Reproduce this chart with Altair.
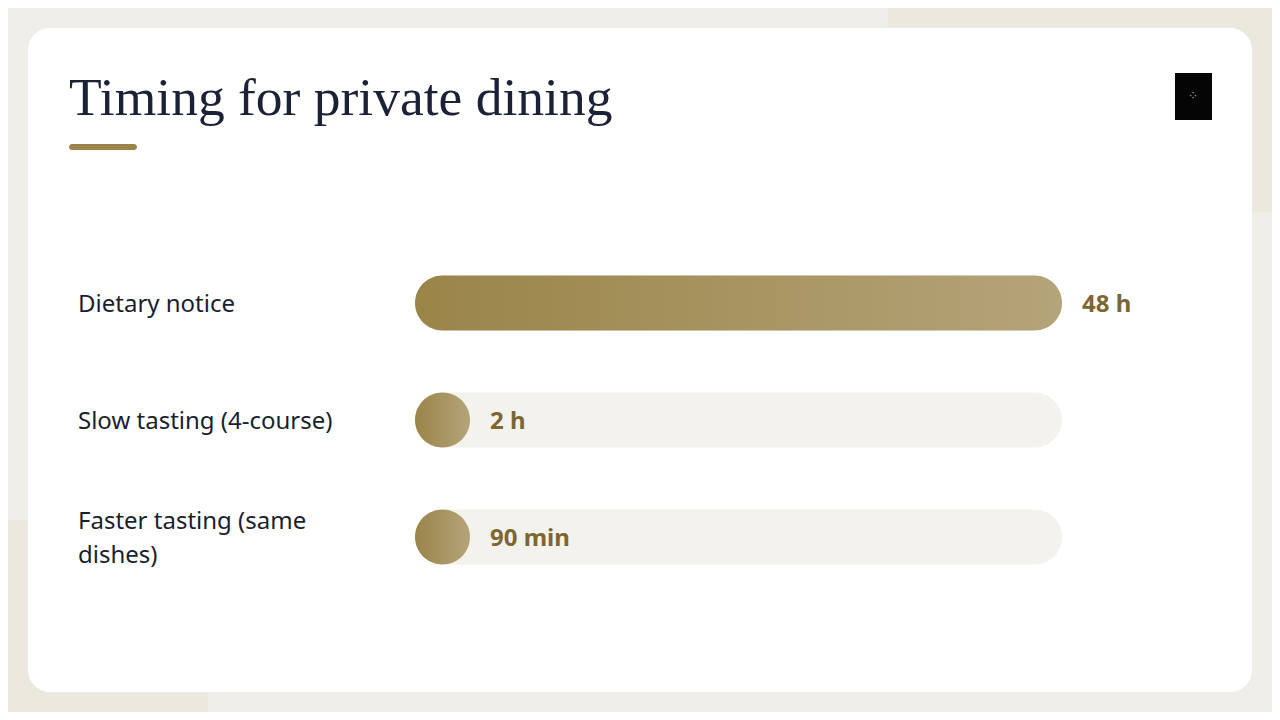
import altair as alt
import pandas as pd

# ---- data ----
categories = ["Dietary notice", "Slow tasting (4-course)", "Faster tasting (same\ndishes)"]
minutes = [2880, 120, 90]
value_labels = ["48 h", "2 h", "90 min"]
MAX_MINUTES = 2880

# ---- layout (chart coords = page coords - 8) ----
W, H = 1264, 704
TRACK_X0, TRACK_X1 = 407, 1054
ROW_Y0, ROW_Y1 = 295, 529
BAR_H = 55
LINE_H = 34
MIN_SHOWN = MAX_MINUTES * BAR_H / (TRACK_X1 - TRACK_X0)
HALF_LINE_IDX = (LINE_H / 2) / ((ROW_Y1 - ROW_Y0) / (len(categories) - 1))

GOLD = "#9a844a"
TRACK = "#f4f2ed"
INK = "#1a1f2e"
VALUE_INK = "#7c6733"
FONT = "Noto Sans"

df = pd.DataFrame({
    "idx": list(range(len(categories))),
    "label": categories,
    "minutes": minutes,
    "vlabel": value_labels,
})

xs = alt.Scale(domain=[0, MAX_MINUTES], range=[TRACK_X0, TRACK_X1], zero=True, nice=False, padding=0)
ys = alt.Scale(domain=[0, len(categories) - 1], range=[ROW_Y0, ROW_Y1], zero=False, nice=False, padding=0)

gradient = alt.LinearGradient(
    gradient="linear", x1=0, y1=0, x2=1, y2=0,
    stops=[alt.GradientStop(offset=0, color="#9a8448"),
           alt.GradientStop(offset=1, color="#b4a479")],
)

one = alt.Data(values=[{}])

bg_top_right = alt.Chart(one).mark_rect(color="#ebe8dd", cornerRadius=40).encode(
    x=alt.value(880), x2=alt.value(W + 60), y=alt.value(-60), y2=alt.value(204))
bg_bottom_left = alt.Chart(one).mark_rect(color="#ebe8de", cornerRadius=40).encode(
    x=alt.value(-60), x2=alt.value(200), y=alt.value(512), y2=alt.value(H + 60))

card = alt.Chart(one).mark_rect(color="white", cornerRadius=22).encode(
    x=alt.value(20), x2=alt.value(1244), y=alt.value(20), y2=alt.value(684))

title = alt.Chart(one).mark_text(
    text="Timing for private dining", font="Liberation Serif", fontSize=53.5,
    color="#1b2236", align="left", baseline="alphabetic",
).encode(x=alt.value(61), y=alt.value(107))

underline = alt.Chart(one).mark_rect(color=GOLD, cornerRadius=3).encode(
    x=alt.value(61), x2=alt.value(129), y=alt.value(136), y2=alt.value(142))

logo = alt.Chart(one).mark_rect(color="#050505").encode(
    x=alt.value(1167), x2=alt.value(1204), y=alt.value(65), y2=alt.value(112))
logo_mark = alt.Chart(one).mark_text(
    text="⁘", font="DejaVu Sans", fontSize=12, color="#c9a45a", align="center", baseline="middle"
).encode(x=alt.value(1185), y=alt.value(88))

base = alt.Chart(df).transform_calculate(
    start="0", full=str(MAX_MINUTES), shown=f"max(datum.minutes, {MIN_SHOWN})",
    ylab=f"datum.idx - (length(split(datum.label, '\\n')) - 1) * {HALF_LINE_IDX}",
)

track = base.mark_bar(orient="horizontal", height=BAR_H, cornerRadius=BAR_H / 2, color=TRACK).encode(
    x=alt.X("start:Q", scale=xs, axis=None), x2="full:Q",
    y=alt.Y("idx:Q", scale=ys, axis=None))

bars = base.mark_bar(orient="horizontal", height=BAR_H, cornerRadius=BAR_H / 2, color=gradient).encode(
    x=alt.X("start:Q", scale=xs, axis=None), x2="shown:Q",
    y=alt.Y("idx:Q", scale=ys, axis=None))

labels = base.mark_text(
    align="left", baseline="middle", font=FONT, fontSize=24, fontWeight="normal",
    color=INK, lineBreak="\n", lineHeight=LINE_H, dy=2,
).encode(x=alt.value(70), y=alt.Y("ylab:Q", scale=ys, axis=None), text="label:N")

values = base.mark_text(
    align="left", baseline="middle", font=FONT, fontSize=24, fontWeight="bold",
    color=VALUE_INK, dx=20, dy=2,
).encode(x=alt.X("shown:Q", scale=xs, axis=None), y=alt.Y("idx:Q", scale=ys, axis=None),
         text="vlabel:N")

chart = alt.layer(
    bg_top_right, bg_bottom_left, card, title, underline, logo, logo_mark,
    track, bars, labels, values,
).properties(
    width=W, height=H, autosize=alt.AutoSizeParams(type="none"), padding=0,
    background="#f0eee8",
).configure_view(stroke=None)

chart.save("out.html", embed_options={"renderer": "svg", "actions": False})
